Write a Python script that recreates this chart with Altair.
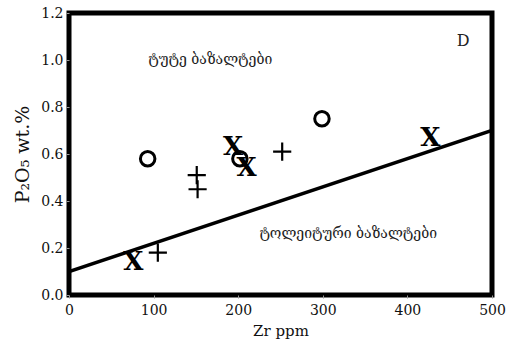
import altair as alt
import pandas as pd

# Sample groups: Zr (ppm) vs P2O5 (wt.%)
circle_zr = [93, 202, 299]
circle_p = [0.58, 0.58, 0.75]

cross_zr = [76, 194, 210, 427]
cross_p = [0.14, 0.63, 0.54, 0.67]

plus_zr = [105, 151, 152, 252]
plus_p = [0.18, 0.51, 0.45, 0.61]

# Discriminant line between alkaline and tholeiitic basalts
line_zr = [0, 500]
line_p = [0.1, 0.7]

labels_text = ["ტუტე ბაზალტები", "ტოლეიტური ბაზალტები", "D"]
labels_zr = [167, 330, 466]
labels_p = [1.0, 0.26, 1.08]

serif = "DejaVu Serif"

xscale = alt.Scale(domain=[0, 500], nice=False, zero=False)
yscale = alt.Scale(domain=[0, 1.2], nice=False, zero=False)

xaxis = alt.Axis(title="Zr ppm", values=[0, 100, 200, 300, 400, 500], format="d",
                 grid=False, domain=False, tickSize=3, tickColor="#999",
                 labelFlush=False,
                 labelFont=serif, labelFontSize=14, labelColor="#111",
                 labelPadding=5, titleFont=serif, titleFontSize=15,
                 titleFontWeight="normal", titleColor="#111", titlePadding=6)
yaxis = alt.Axis(title="P₂O₅ wt.%", values=[0, 0.2, 0.4, 0.6, 0.8, 1.0, 1.2], format=".1f",
                 grid=False, domain=False, tickSize=3, tickColor="#999",
                 labelFlush=False,
                 labelFont=serif, labelFontSize=14, labelColor="#111",
                 labelPadding=3, titleFont=serif, titleFontSize=19,
                 titleFontWeight="normal", titleColor="#111", titlePadding=8)

line_df = pd.DataFrame({"zr": line_zr, "p": line_p})
line = alt.Chart(line_df).mark_line(color="black", strokeWidth=3.5, clip=True).encode(
    x=alt.X("zr:Q", scale=xscale, axis=xaxis),
    y=alt.Y("p:Q", scale=yscale, axis=yaxis),
)

circ_df = pd.DataFrame({"zr": circle_zr, "p": circle_p})
circles = alt.Chart(circ_df).mark_point(shape="circle", filled=False, color="black",
                                         opacity=1, strokeWidth=3, size=210).encode(
    x=alt.X("zr:Q", scale=xscale), y=alt.Y("p:Q", scale=yscale))

plus_df = pd.DataFrame({"zr": plus_zr, "p": plus_p})
pluses = alt.Chart(plus_df).mark_point(shape="M-1,0L1,0M0,-1L0,1", filled=False,
                                        color="black", opacity=1, strokeWidth=2.2,
                                        size=330).encode(
    x=alt.X("zr:Q", scale=xscale), y=alt.Y("p:Q", scale=yscale))

cross_df = pd.DataFrame({"zr": cross_zr, "p": cross_p, "t": ["X"] * len(cross_zr)})
crosses = alt.Chart(cross_df).mark_text(font=serif, fontSize=26, fontWeight="bold",
                                        color="black", baseline="middle", align="center").encode(
    x=alt.X("zr:Q", scale=xscale), y=alt.Y("p:Q", scale=yscale), text="t:N")

lab_df = pd.DataFrame({"zr": labels_zr, "p": labels_p, "t": labels_text,
                       "fs": [14, 14, 16]})
labels = alt.Chart(lab_df).mark_text(font=serif, color="#222", baseline="middle",
                                     align="center").encode(
    x=alt.X("zr:Q", scale=xscale), y=alt.Y("p:Q", scale=yscale), text="t:N",
    size=alt.Size("fs:Q", scale=None, legend=None))

chart = alt.layer(line, circles, pluses, crosses, labels).properties(
    width=423, height=282,
    padding={"left": 69, "top": 13, "right": 18, "bottom": 50},
    autosize=alt.AutoSizeParams(type="none"),
    background="white",
).configure_view(stroke="black", strokeWidth=5)

chart.save("out.html", embed_options={"renderer": "svg", "actions": False})
